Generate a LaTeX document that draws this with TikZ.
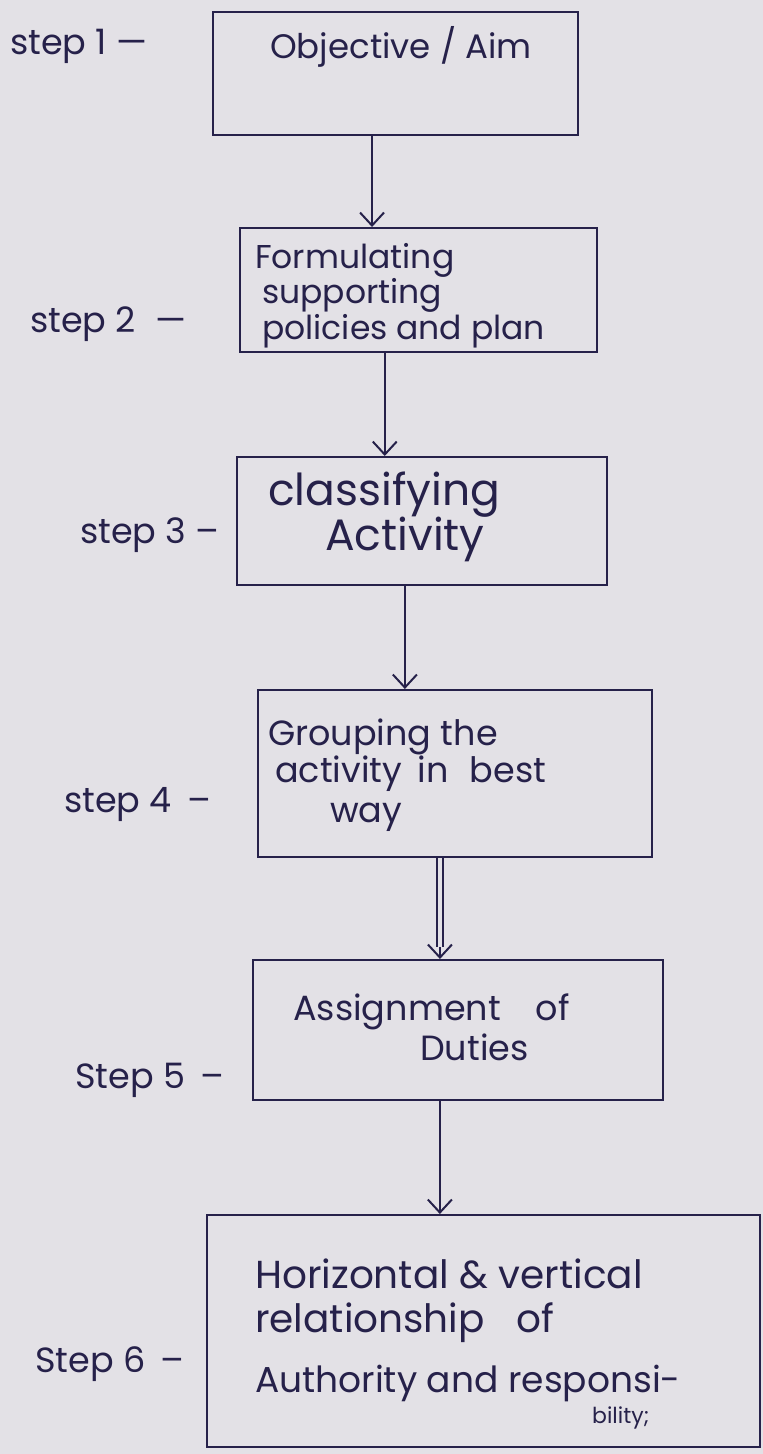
\documentclass[tikz,border=0pt]{standalone}
\usepackage{fontspec}
\setmainfont{Poppins}
\usetikzlibrary{arrows.meta,calc}
\definecolor{paper}{HTML}{E3E1E6}
\definecolor{ink}{HTML}{26214A}
\newcommand{\fs}[1]{\fontsize{#1}{#1}\selectfont}
\tikzset{
  stepbox/.style={draw=ink, line width=2pt, rectangle, inner sep=0pt},
  line/.style={text=ink, anchor=base west, inner sep=0pt},
  lbl/.style={text=ink, anchor=base west, inner sep=0pt, font=\fs{35}},
  flow/.style={draw=ink, line width=2pt, -{Straight Barb[length=13pt,width=24pt,line width=2pt]}},
}
\begin{document}
\begin{tikzpicture}[x=1pt,y=-1pt]
  \fill[paper] (0,0) rectangle (763,1454);
  \useasboundingbox (0,0) rectangle (763,1454);

  % process boxes
  \node[stepbox, minimum width=365pt, minimum height=123pt] (b1) at (395.5,73.5) {};
  \node[stepbox, minimum width=357pt, minimum height=124pt] (b2) at (418.5,290) {};
  \node[stepbox, minimum width=370pt, minimum height=128pt] (b3) at (422,521) {};
  \node[stepbox, minimum width=394pt, minimum height=167pt] (b4) at (455,773.5) {};
  \node[stepbox, minimum width=410pt, minimum height=140pt] (b5) at (458,1030) {};
  \node[stepbox, minimum width=553pt, minimum height=232pt] (b6) at (483.5,1331) {};

  % box texts, one node per written line
  \node[line, font=\fs{34}] (t1) at (270,58) {Objective / Aim};

  \node[line, font=\fs{33}] (t2a) at (255,268) {Formulating};
  \node[line, font=\fs{33}] (t2b) at (262,303) {supporting};
  \node[line, font=\fs{33}] (t2c) at (262,339) {policies and plan};

  \node[line, font=\fs{44}] (t3a) at (268,505) {classifying};
  \node[line, font=\fs{44}] (t3b) at (325,550) {Activity};

  \node[line, font=\fs{35}] (t4a) at (268,745) {Grouping the};
  \node[line, font=\fs{35}] (t4b) at (275,782) {activity\hspace{0.45em}in\hspace{0.6em}best};
  \node[line, font=\fs{35}] (t4c) at (330,822) {way};

  \node[line, font=\fs{35}] (t5a) at (293,1020) {Assignment\hspace{1em}of};
  \node[line, font=\fs{35}] (t5b) at (420,1060) {Duties};

  \node[line, font=\fs{39}] (t6a) at (255,1288) {Horizontal \& vertical};
  \node[line, font=\fs{39}] (t6b) at (255,1332) {relationship\hspace{0.8em}of};
  \node[line, font=\fs{36}] (t6c) at (255,1392) {Authority and responsi-};
  \node[line, font=\fs{22}] (t6d) at (592,1423) {bility;};

  % step labels
  \node[lbl] (s1) at (10,54) {step 1 —};
  \node[lbl] (s2) at (30,332) {step 2 \;—};
  \node[lbl] (s3) at (80,543) {step 3 –};
  \node[lbl] (s4) at (64,812) {step 4 \,–};
  \node[lbl] (s5) at (75,1088) {Step 5 \,–};
  \node[lbl] (s6) at (35,1372) {Step 6 \,–};

  % connectors
  \draw[flow] ($(b1.south west)!0.436!(b1.south east)$) coordinate (a1) -- (a1 |- b2.north);
  \draw[flow] ($(b2.south west)!0.406!(b2.south east)$) coordinate (a2) -- (a2 |- b3.north);
  \draw[flow] ($(b3.south west)!0.454!(b3.south east)$) coordinate (a3) -- (a3 |- b4.north);
  \coordinate (a4) at ($(b4.south west)!0.462!(b4.south east)$);
  \draw[draw=ink, line width=1.8pt, double=paper, double distance=4pt]
    (a4) -- ($(a4 |- b5.north)+(0,-12)$) coordinate (a4e);
  \draw[flow] (a4e) -- (a4 |- b5.north);
  \draw[flow] ($(b5.south west)!0.456!(b5.south east)$) coordinate (a5) -- (a5 |- b6.north);
\end{tikzpicture}
\end{document}
